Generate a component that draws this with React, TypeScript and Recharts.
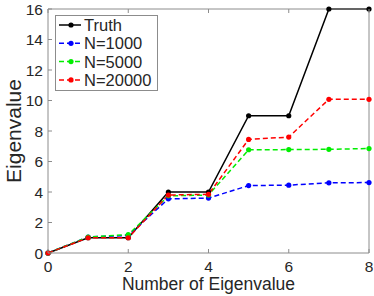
import React from 'react';
import { LineChart, Line, XAxis, YAxis } from 'recharts';

const eigIndex = [0, 1, 2, 3, 4, 5, 6, 7, 8];
const truth = [0, 1, 1, 4, 4, 9, 9, 16, 16];
const n1000 = [0, 1.05, 1.15, 3.55, 3.6, 4.42, 4.45, 4.6, 4.62];
const n5000 = [0, 1.05, 1.2, 3.75, 3.8, 6.77, 6.78, 6.8, 6.85];
const n20000 = [0, 1, 1, 3.8, 3.85, 7.45, 7.6, 10.08, 10.08];
const xTicks = [0, 2, 4, 6, 8];
const yTicks = [0, 2, 4, 6, 8, 10, 12, 14, 16];

const series = [
  { key: 'truth', name: 'Truth', color: '#000000', dash: undefined },
  { key: 'n1000', name: 'N=1000', color: '#0000ff', dash: '5 3' },
  { key: 'n5000', name: 'N=5000', color: '#00ee00', dash: '5 3' },
  { key: 'n20000', name: 'N=20000', color: '#ff0000', dash: '5 3' },
];

const data = eigIndex.map((x, i) => ({
  x,
  truth: truth[i],
  n1000: n1000[i],
  n5000: n5000[i],
  n20000: n20000[i],
}));

const W = 374;
const H = 296;
const LEFT = 48;
const RIGHT = 369;
const TOP = 9;
const BOTTOM = 253;
const AXIS = '#8c8c8c';
const TEXT = '#262626';
const FONT = '"Liberation Sans", Arial, sans-serif';

const BottomTick = (props: any) => {
  const { x, payload } = props;
  return (
    <g>
      <line x1={x} x2={x} y1={BOTTOM} y2={BOTTOM - 4} stroke={AXIS} />
      <text x={x} y={BOTTOM + 19} textAnchor="middle" fill={TEXT} fontSize={15.5} fontFamily={FONT}>
        {payload.value}
      </text>
    </g>
  );
};

const TopTick = (props: any) => {
  const { x } = props;
  return <line x1={x} x2={x} y1={TOP} y2={TOP + 4} stroke={AXIS} />;
};

const LeftTick = (props: any) => {
  const { y, payload } = props;
  return (
    <g>
      <line x1={LEFT} x2={LEFT + 4} y1={y} y2={y} stroke={AXIS} />
      <text x={LEFT - 5} y={y + 5.5} textAnchor="end" fill={TEXT} fontSize={15.5} fontFamily={FONT}>
        {payload.value}
      </text>
    </g>
  );
};

const RightTick = (props: any) => {
  const { y } = props;
  return <line x1={RIGHT} x2={RIGHT - 4} y1={y} y2={y} stroke={AXIS} />;
};

export default function App() {
  return (
    <div style={{ position: 'absolute', left: 0, top: 0, width: W, height: H, background: '#fff' }}>
      <LineChart
        width={W}
        height={H}
        data={data}
        margin={{ top: TOP - 1, right: W - RIGHT - 1, bottom: H - BOTTOM - 30, left: LEFT - 40 }}
      >
        <XAxis
          dataKey="x"
          type="number"
          domain={[0, 8]}
          ticks={xTicks}
          xAxisId="bottom"
          height={30}
          stroke={AXIS}
          tickLine={false}
          tick={<BottomTick />}
          interval={0}
        />
        <XAxis
          dataKey="x"
          type="number"
          domain={[0, 8]}
          ticks={xTicks}
          xAxisId="top"
          orientation="top"
          height={1}
          stroke={AXIS}
          tickLine={false}
          tick={<TopTick />}
          interval={0}
        />
        <YAxis
          type="number"
          domain={[0, 16]}
          ticks={yTicks}
          yAxisId="left"
          width={40}
          stroke={AXIS}
          tickLine={false}
          tick={<LeftTick />}
          interval={0}
        />
        <YAxis
          type="number"
          domain={[0, 16]}
          ticks={yTicks}
          yAxisId="right"
          orientation="right"
          width={1}
          stroke={AXIS}
          tickLine={false}
          tick={<RightTick />}
          interval={0}
        />
        {series.map((s) => (
          <Line
            key={s.key}
            xAxisId="bottom"
            yAxisId="left"
            type="linear"
            dataKey={s.key}
            name={s.name}
            stroke={s.color}
            strokeWidth={1.5}
            strokeDasharray={s.dash}
            dot={{ r: 2.6, fill: s.color, stroke: s.color, strokeWidth: 0 }}
            isAnimationActive={false}
          />
        ))}
        <g>
          <rect x={55.5} y={15.5} width={102} height={75} fill="#fff" stroke={AXIS} />
          {series.map((s, i) => {
            const cy = 25 + i * 18.3;
            return (
              <g key={s.key}>
                <line x1={59} x2={81} y1={cy} y2={cy} stroke={s.color} strokeWidth={1.5} strokeDasharray={s.dash} />
                <circle cx={71} cy={cy} r={2.6} fill={s.color} />
                <text x={84} y={cy + 6} fill={TEXT} fontSize={16.5} fontFamily={FONT}>
                  {s.name}
                </text>
              </g>
            );
          })}
        </g>
        <text x={(LEFT + RIGHT) / 2} y={290} textAnchor="middle" fill={TEXT} fontSize={17.5} fontFamily={FONT}>
          Number of Eigenvalue
        </text>
        <text
          x={21}
          y={131}
          textAnchor="middle"
          fill={TEXT}
          fontSize={21}
          fontFamily={FONT}
          transform="rotate(-90 21 131)"
        >
          Eigenvalue
        </text>
      </LineChart>
    </div>
  );
}
